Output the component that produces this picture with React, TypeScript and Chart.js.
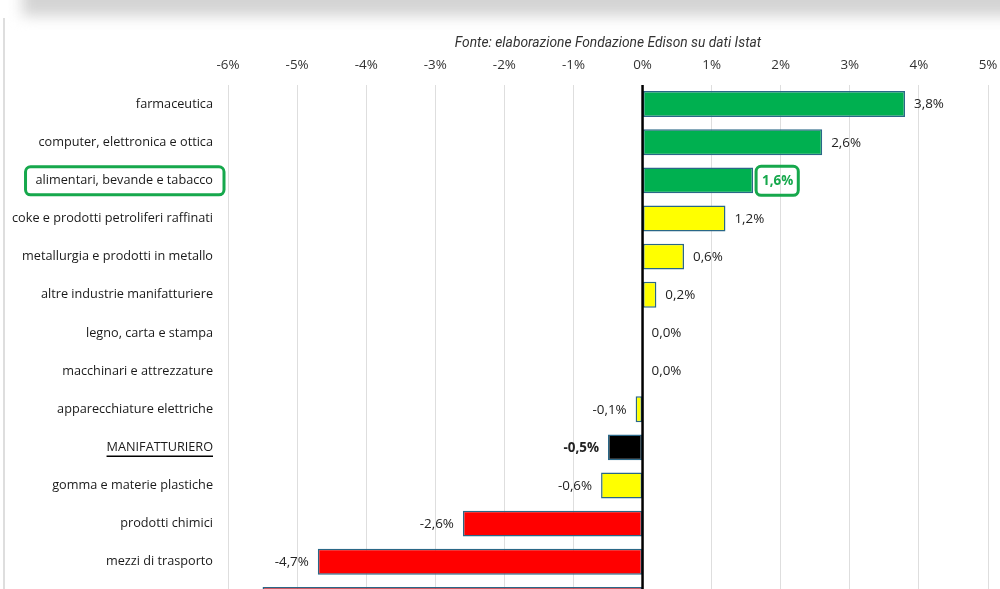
import React, { useEffect, useRef } from "react";
import { Chart, registerables } from "chart.js";

Chart.register(...registerables);

const categories = [
  "farmaceutica",
  "computer, elettronica e ottica",
  "alimentari, bevande e tabacco",
  "coke e prodotti petroliferi raffinati",
  "metallurgia e prodotti in metallo",
  "altre industrie manifatturiere",
  "legno, carta e stampa",
  "macchinari e attrezzature",
  "apparecchiature elettriche",
  "MANIFATTURIERO",
  "gomma e materie plastiche",
  "prodotti chimici",
  "mezzi di trasporto",
  "tessile, abbigliamento e pelli",
];

const values = [3.8, 2.6, 1.6, 1.2, 0.6, 0.2, 0.0, 0.0, -0.1, -0.5, -0.6, -2.6, -4.7, -5.5];

const xTickValues = [-6, -5, -4, -3, -2, -1, 0, 1, 2, 3, 4, 5];

const totalCategory = "MANIFATTURIERO";
const highlightedCategory = "alimentari, bevande e tabacco";
const sourceNote = "Fonte: elaborazione Fondazione Edison su dati Istat";

const FONT = "'Open Sans', 'Noto Sans', sans-serif";
const TITLE_FONT = "Roboto, 'Noto Sans', sans-serif";
const CAT_SIZE = 12.7;
const VAL_SIZE = 13.4;
const GREEN = "#00B050";
const HILITE = "#16A84C";

const fmt = (v: number) => v.toFixed(1).replace(".", ",") + "%";

const colorFor = (cat: string, v: number) => {
  if (cat === totalCategory) return "#000000";
  if (v >= 1.5) return GREEN;
  if (v <= -1.5) return "#FF0000";
  return "#FFFF00";
};

function roundRect(ctx: CanvasRenderingContext2D, x: number, y: number, w: number, h: number, r: number) {
  ctx.beginPath();
  ctx.moveTo(x + r, y);
  ctx.lineTo(x + w - r, y);
  ctx.arcTo(x + w, y, x + w, y + r, r);
  ctx.lineTo(x + w, y + h - r);
  ctx.arcTo(x + w, y + h, x + w - r, y + h, r);
  ctx.lineTo(x + r, y + h);
  ctx.arcTo(x, y + h, x, y + h - r, r);
  ctx.lineTo(x, y + r);
  ctx.arcTo(x, y, x + r, y, r);
  ctx.closePath();
}

const overlayPlugin = {
  id: "overlay",
  afterDatasetsDraw(chart: any) {
    const { ctx, chartArea, scales } = chart;
    const xs = scales.x;
    const ys = scales.y;
    ctx.save();

    // zero axis
    const x0 = xs.getPixelForValue(0);
    ctx.strokeStyle = "#000";
    ctx.lineWidth = 2.5;
    ctx.beginPath();
    ctx.moveTo(x0, chartArea.top);
    ctx.lineTo(x0, chartArea.bottom);
    ctx.stroke();

    // source note
    ctx.font = `italic 13.8px ${TITLE_FONT}`;
    ctx.fillStyle = "#333";
    ctx.textAlign = "center";
    ctx.textBaseline = "middle";
    ctx.fillText(sourceNote, (chartArea.left + chartArea.right) / 2, 44);

    // data labels
    const meta = chart.getDatasetMeta(0);
    meta.data.forEach((el: any, i: number) => {
      const v = values[i];
      const cat = categories[i];
      const isTotal = cat === totalCategory;
      const isHi = cat === highlightedCategory;
      ctx.font = `${isTotal || isHi ? "bold " : ""}${VAL_SIZE}px ${FONT}`;
      ctx.fillStyle = isHi ? HILITE : "#222";
      ctx.textBaseline = "middle";
      const txt = fmt(v);
      if (v >= 0) {
        ctx.textAlign = "left";
        ctx.fillText(txt, el.x + 9, el.y + 0.5);
        if (isHi) {
          const w = ctx.measureText(txt).width;
          ctx.strokeStyle = HILITE;
          ctx.lineWidth = 3;
          roundRect(ctx, el.x + 3, el.y - 14, w + 11, 29, 5);
          ctx.stroke();
        }
      } else {
        ctx.textAlign = "right";
        ctx.fillText(txt, el.x - 9, el.y + 0.5);
      }
    });

    // category label decorations
    const labelRight = chartArea.left - 15;
    ctx.font = `${CAT_SIZE}px ${FONT}`;
    categories.forEach((cat, i) => {
      const y = ys.getPixelForValue(i);
      const w = ctx.measureText(cat).width;
      if (cat === totalCategory) {
        ctx.strokeStyle = "#000";
        ctx.lineWidth = 1.5;
        ctx.beginPath();
        ctx.moveTo(labelRight - w, y + 9);
        ctx.lineTo(labelRight, y + 9);
        ctx.stroke();
      }
      if (cat === highlightedCategory) {
        ctx.strokeStyle = HILITE;
        ctx.lineWidth = 3;
        roundRect(ctx, labelRight - w - 10, y - 13.5, w + 21, 28, 5);
        ctx.stroke();
      }
    });

    ctx.restore();
  },
};

export default function App() {
  const ref = useRef<HTMLCanvasElement | null>(null);

  useEffect(() => {
    if (!ref.current) return;
    const chart = new Chart(ref.current, {
      type: "bar",
      data: {
        labels: categories,
        datasets: [
          {
            data: values,
            backgroundColor: categories.map((c, i) => colorFor(c, values[i])),
            borderColor: "#2A6787",
            borderWidth: 1.5,
            borderSkipped: false,
            barPercentage: 0.68,
            categoryPercentage: 1,
          },
        ],
      },
      options: {
        indexAxis: "y",
        animation: false,
        responsive: false,
        maintainAspectRatio: false,
        layout: { padding: { top: 0, right: 12, bottom: 0, left: 0 } },
        plugins: {
          legend: { display: false },
          tooltip: { enabled: false },
          title: { display: false },
        },
        scales: {
          x: {
            position: "top",
            min: -6,
            max: 5,
            afterBuildTicks: (s: any) => {
              s.ticks = xTickValues.map((v) => ({ value: v }));
            },
            ticks: {
              padding: 12,
              color: "#333",
              font: { family: FONT, size: VAL_SIZE },
              callback: (v: any) => `${v}%`,
            },
            grid: { color: "#DEDEDE", lineWidth: 1, drawTicks: false },
            border: { display: false },
            afterFit: (s: any) => {
              s.height = 85;
              s.paddingLeft = 0;
              s.paddingRight = 0;
            },
          },
          y: {
            ticks: {
              padding: 15,
              color: "#1a1a1a",
              autoSkip: false,
              font: { family: FONT, size: CAT_SIZE },
            },
            grid: { display: false, drawTicks: false },
            border: { display: false },
            afterFit: (s: any) => {
              s.width = 228;
              s.paddingTop = 0;
              s.paddingBottom = 0;
            },
          },
        },
      },
      plugins: [overlayPlugin],
    } as any);
    return () => chart.destroy();
  }, []);

  return (
    <div
      style={{
        position: "fixed",
        top: 0,
        left: 0,
        width: 1000,
        height: 589,
        overflow: "hidden",
        background: "#fff",
      }}
    >
      <div
        style={{
          position: "absolute",
          left: 22,
          top: -30,
          width: 1020,
          height: 46,
          background: "#d4d4d4",
          filter: "blur(7px)",
        }}
      />
      <div
        style={{
          position: "absolute",
          left: 3,
          top: 18,
          width: 2,
          bottom: 0,
          background: "#dedede",
        }}
      />
      <canvas
        ref={ref}
        width={1000}
        height={619}
        style={{ position: "absolute", top: 0, left: 0, width: 1000, height: 619 }}
      />
    </div>
  );
}
